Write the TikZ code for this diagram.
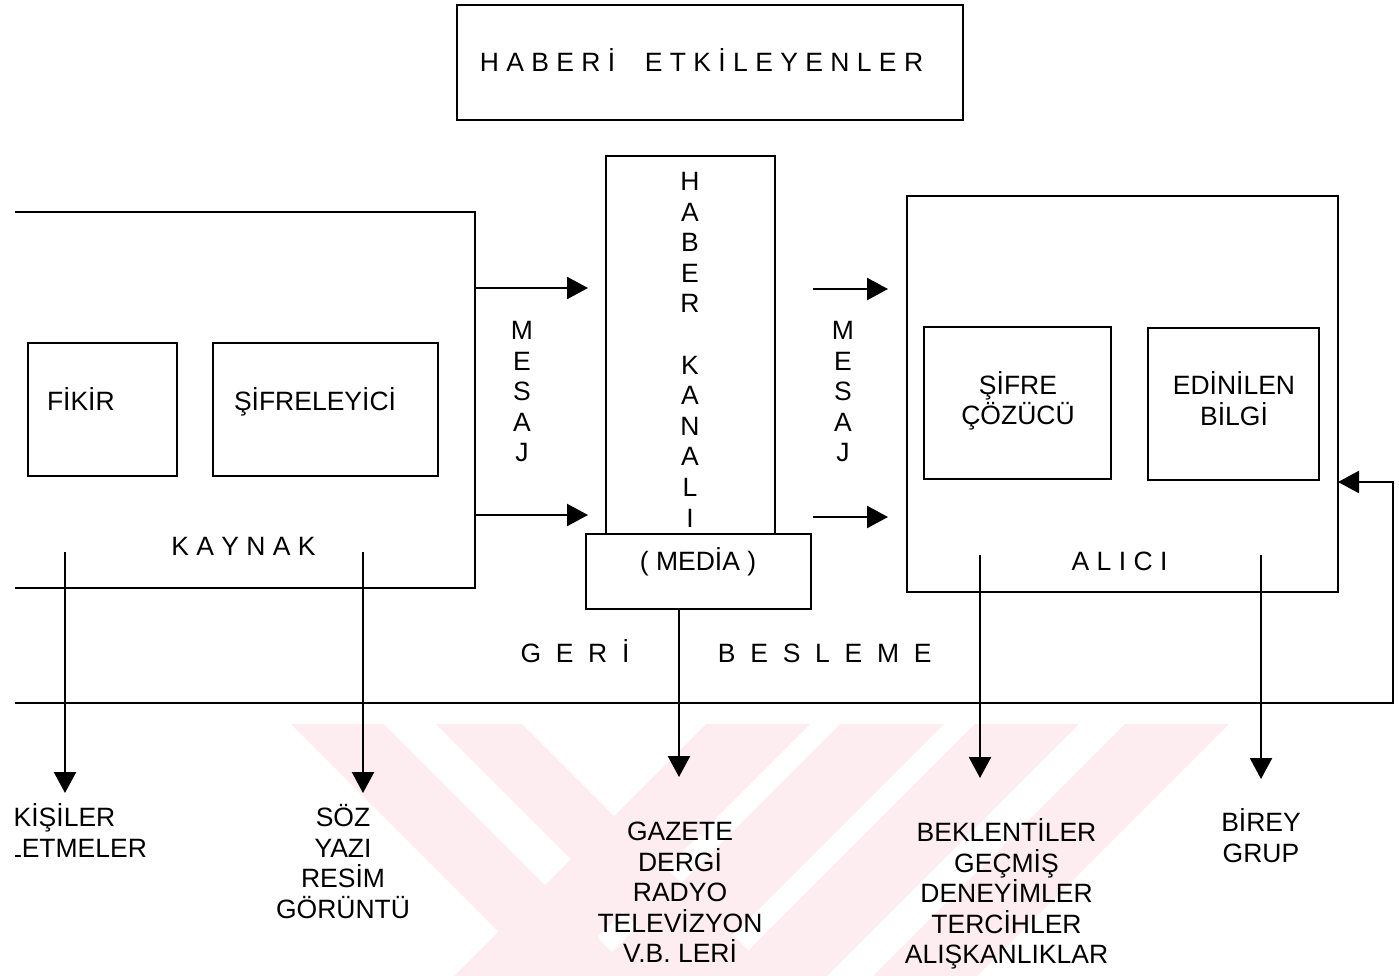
\documentclass[tikz,border=0pt]{standalone}
\usepackage{fontspec}
\setmainfont{Liberation Sans}
\usetikzlibrary{arrows.meta}
\definecolor{wmpink}{RGB}{253,236,240}
% centred lines stacked at a fixed pitch; the baseline is that of the first line
\newcommand\stk[1]{\vtop{\lineskiplimit=-1000pt\halign{\hfil##\hfil\cr#1\crcr}}}

\begin{document}
\begin{tikzpicture}[x=1pt,y=-1pt,
  every node/.style={inner sep=0pt, outer sep=0pt, font=\fontsize{26.5}{30.6}\selectfont},
  box/.style={draw, rectangle, line width=2.2pt},
  txt/.style={anchor=base},
  frame/.style={line width=2.2pt},
  flow/.style={-{Triangle[length=21pt,width=22pt]}, line width=2.4pt},
  wm/.style={fill=wmpink, draw=none}]

\useasboundingbox (0,0) rectangle (1399,975);

% background emblem made of slanted bands
\begin{scope}
  \clip (0,724) rectangle (1399,975);
  \foreach \a/\b in {291/384, 436/522}
    \fill[wm] (\a,724) -- (\b,724) -- (\b+260,984) -- (\a+260,984) -- cycle;
  \foreach \a/\b in {706/810, 840/944, 975/1079, 1125/1229}
    \fill[wm] (\a,724) -- (\b,724) -- (\b-260,984) -- (\a-260,984) -- cycle;
\end{scope}

\begin{scope}
\clip (15,0) rectangle (1399,975);

% top box
\node[box, minimum width=506pt, minimum height=115pt] (etk) at (710,62.5) {};
\node[txt] (etkt) at (701.5,71) {H A B E R İ\hspace{29.5pt}E T K İ L E Y E N L E R};

% source (open on the left)
\coordinate (k1) at (15,212);
\coordinate (k2) at (475,212);
\coordinate (k3) at (475,588);
\coordinate (k4) at (15,588);
\draw[frame] (k1) -- (k2) -- (k3) -- (k4);
\node[box, minimum width=149pt, minimum height=133pt] (fikir) at (102.5,409.5) {};
\node[txt, anchor=base west] (fikirt) at (47,410) {FİKİR};
\node[box, minimum width=225pt, minimum height=133pt] (sifreleyici) at (325.5,409.5) {};
\node[txt] (sifreleyicit) at (315,410) {ŞİFRELEYİCİ};
\node[txt] (kaynak) at (243.5,555) {K A Y N A K};

% channel
\node[box, minimum width=169pt, minimum height=378pt] (kanal) at (690.5,345) {};
\node[txt] (kanalt) at (690,190.5) {\stk{H\cr A\cr B\cr E\cr R\cr\cr K\cr A\cr N\cr A\cr L\cr I}};
\node[box, fill=white, minimum width=225pt, minimum height=75pt] (media) at (698.5,571.5) {};
\node[txt] (mediat) at (698,570) {( MEDİA )};

% receiver
\node[box, minimum width=431pt, minimum height=396pt] (alici) at (1122.5,394) {};
\node[box, minimum width=187pt, minimum height=152pt] (cozucu) at (1017.5,403) {};
\node[txt] (cozucut) at (1018,394) {\stk{ŞİFRE\cr ÇÖZÜCÜ}};
\node[box, minimum width=171pt, minimum height=152pt] (bilgi) at (1233.5,404) {};
\node[txt] (bilgit) at (1234,394.5) {\stk{EDİNİLEN\cr BİLGİ}};
\node[txt] (alicit) at (1119.5,570) {A L I C I};

% message arrows
\coordinate (m1a) at (475,288);  \coordinate (m1b) at (588,288);
\coordinate (m2a) at (475,515);  \coordinate (m2b) at (588,515);
\coordinate (m3a) at (813,289);  \coordinate (m3b) at (888,289);
\coordinate (m4a) at (813,517);  \coordinate (m4b) at (888,517);
\draw[flow] (m1a) -- (m1b);
\draw[flow] (m2a) -- (m2b);
\draw[flow] (m3a) -- (m3b);
\draw[flow] (m4a) -- (m4b);
\node[txt] (mesaj1) at (522,339.5) {\stk{M\cr E\cr S\cr A\cr J}};
\node[txt] (mesaj2) at (843,339.5) {\stk{M\cr E\cr S\cr A\cr J}};

% feedback loop
\coordinate (fb0) at (15,703);
\coordinate (fb1) at (1393,703);
\coordinate (fb2) at (1393,482);
\draw[flow] (fb0) -- (fb1) -- (fb2) -- (alici.east |- fb2);
\node[txt, anchor=base west] (geri) at (520.5,662) {G~~E~~R~~İ\hspace{88.5pt}B~~E~~S~~L~~E~~M~~E};

% outputs
\coordinate (d1a) at (65,552);    \coordinate (d1b) at (65,793);
\coordinate (d2a) at (363,552);   \coordinate (d2b) at (363,793);
\coordinate (d3a) at (679,609);   \coordinate (d3b) at (679,777);
\coordinate (d4a) at (980,555);   \coordinate (d4b) at (980,778);
\coordinate (d5a) at (1261,555);  \coordinate (d5b) at (1261,779);
\draw[flow] (d1a) -- (d1b);
\draw[flow] (d2a) -- (d2b);
\draw[flow] (d3a) -- (d3b);
\draw[flow] (d4a) -- (d4b);
\draw[flow] (d5a) -- (d5b);

\node[txt] (kisiler) at (64.5,826.5) {\stk{KİŞİLER\cr İŞLETMELER}};
\node[txt] (soz) at (343,826.5) {\stk{SÖZ\cr YAZI\cr RESİM\cr GÖRÜNTÜ}};
\node[txt] (gazete) at (680,840.5) {\stk{GAZETE\cr DERGİ\cr RADYO\cr TELEVİZYON\cr V.B. LERİ}};
\node[txt] (beklenti) at (1006.5,841.5) {\stk{BEKLENTİLER\cr GEÇMİŞ\cr DENEYİMLER\cr TERCİHLER\cr ALIŞKANLIKLAR}};
\node[txt] (birey) at (1261,831.5) {\stk{BİREY\cr GRUP}};
\end{scope}
\end{tikzpicture}
\end{document}
